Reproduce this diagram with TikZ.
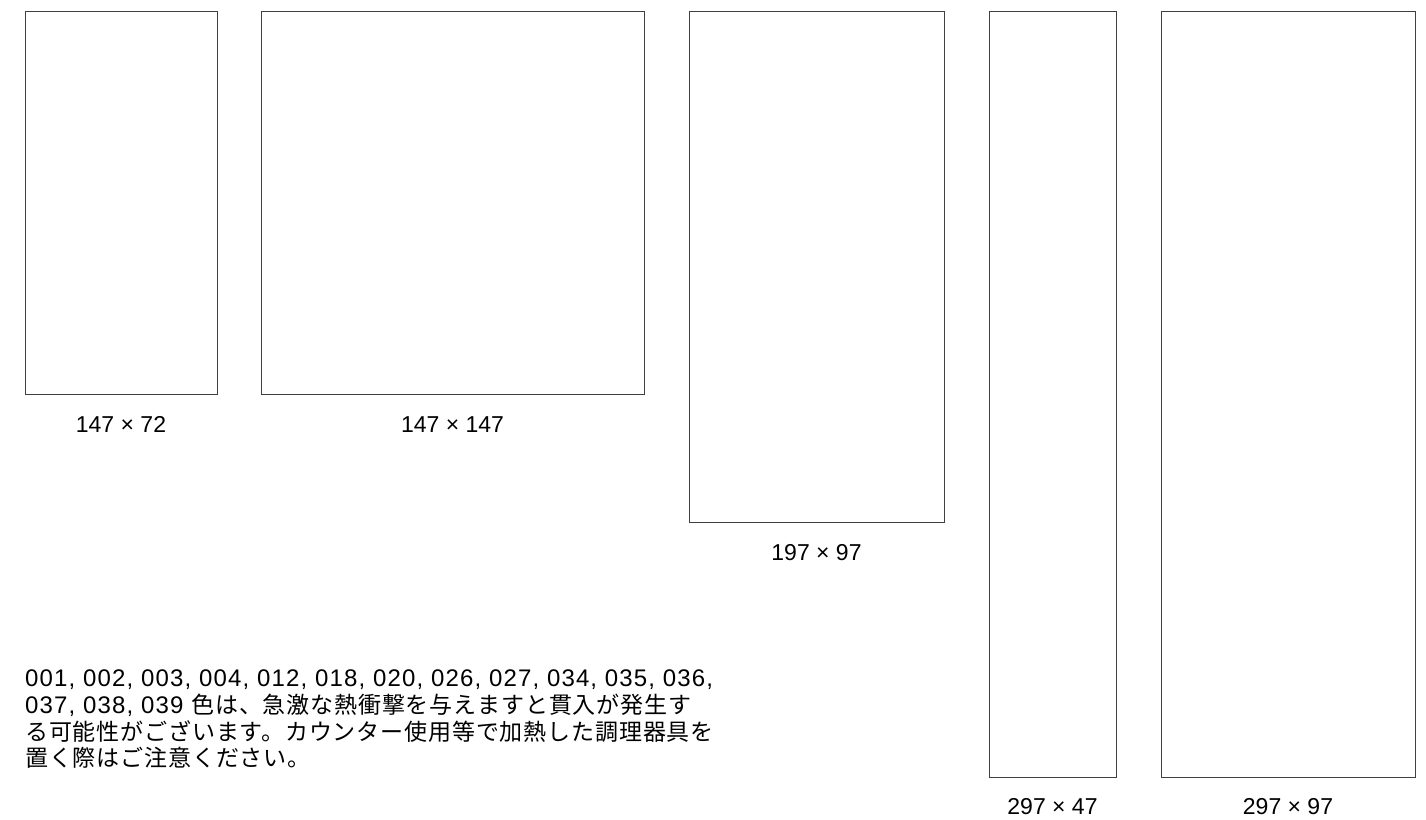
\documentclass[tikz,border=0pt]{standalone}
\usepackage{fontspec}
\setmainfont{Liberation Sans}
\newfontfamily\jp[LetterSpace=3.7]{Noto Sans CJK JP}
\newfontfamily\lt[LetterSpace=4.8]{Liberation Sans}
\begin{document}
\begin{tikzpicture}[x=1pt,y=-1pt,
  box/.style={draw=black!75, line width=1pt, anchor=north west, inner sep=0pt, outer sep=0pt},
  lbl/.style={font=\fontsize{23}{27}\selectfont, anchor=base, inner sep=0pt},
  txt/.style={anchor=base west, inner sep=0pt},
  lat/.style={font=\lt\fontsize{24}{28}\selectfont},
  cjk/.style={font=\jp\fontsize{23}{27}\selectfont}]
\useasboundingbox (0,0) rectangle (1426,819);
\node[box, minimum width=192pt, minimum height=383pt] (r1) at (25,11) {};
\node[box, minimum width=383pt, minimum height=383pt] (r2) at (261,11) {};
\node[box, minimum width=255pt, minimum height=511pt] (r3) at (689,11) {};
\node[box, minimum width=127pt, minimum height=766pt] (r4) at (989,11) {};
\node[box, minimum width=254pt, minimum height=766pt] (r5) at (1161,11) {};
\node[lbl] (l1) at ([yshift=-38pt]r1.south) {147 × 72};
\node[lbl] (l2) at ([yshift=-38pt]r2.south) {147 × 147};
\node[lbl] (l3) at ([yshift=-38pt]r3.south) {197 × 97};
\node[lbl] (l4) at ([yshift=-37pt]r4.south) {297 × 47};
\node[lbl] (l5) at ([yshift=-37pt]r5.south) {297 × 97};
\node[txt, lat] (t1) at (25,686) {001, 002, 003, 004, 012, 018, 020, 026, 027, 034, 035, 036,};
\node[txt, font=\fontsize{23}{27}\selectfont] (t2) at (25,713) {{\lt\fontsize{24}{28}\selectfont 037, 038, 039 }{\jp 色は、急激な熱衝撃を与えますと貫入が発生す}};
\node[txt, cjk] (t3) at (25,740) {る可能性がございます。カウンター使用等で加熱した調理器具を};
\node[txt, cjk] (t4) at (25,766) {置く際はご注意ください。};
\end{tikzpicture}
\end{document}
